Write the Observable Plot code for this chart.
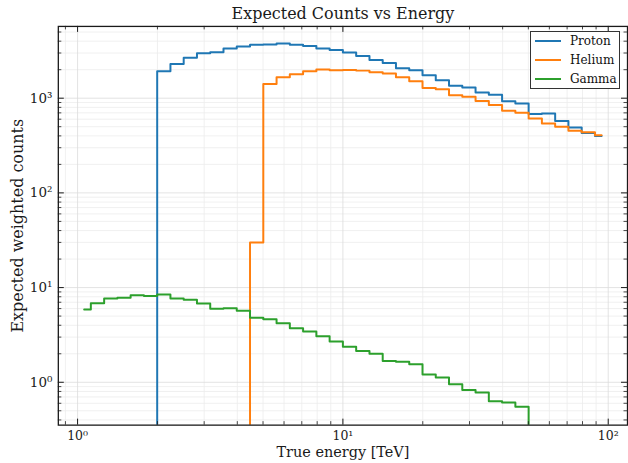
<!DOCTYPE html>
<html>
<head>
<meta charset="utf-8">
<script src="https://cdn.jsdelivr.net/npm/d3@7"></script>
<script src="https://cdn.jsdelivr.net/npm/@observablehq/plot@0.6"></script>
<style>
  html, body { margin: 0; padding: 0; background: #fff; overflow: hidden; }
  #wrap { position: relative; width: 628px; height: 463px; overflow: hidden; font-family: "DejaVu Serif", serif; }
  #legend { position: absolute; left: 530px; top: 31px; width: 90px; height: 58px; box-sizing: border-box;
            border: 1.2px solid #333; background: #fff; font-size: 12px; color: #111; }
  #legend .item { height: 19px; line-height: 19px; padding-left: 4px; white-space: nowrap; }
  #legend .sw { display: inline-block; width: 26px; height: 2px; vertical-align: middle; margin-right: 9px; position: relative; top: -1px; }
</style>
</head>
<body>
<div id="wrap"><div id="legend"></div></div>
<script>
// ---- data ----
const energyTeV = [1.059, 1.189, 1.334, 1.496, 1.679, 1.884, 2.114, 2.371, 2.661, 2.985,
                   3.350, 3.758, 4.217, 4.732, 5.309, 5.957, 6.683, 7.499, 8.414, 9.441,
                   10.59, 11.89, 13.34, 14.96, 16.79, 18.84, 21.14, 23.71, 26.61, 29.85,
                   33.50, 37.58, 42.17, 47.32, 53.09, 59.57, 66.83, 74.99, 84.14, 94.41];
const proton = [0, 0, 0, 0, 0, 0, 1920, 2300, 2680, 2980,
                3050, 3340, 3520, 3670, 3690, 3770, 3670, 3560, 3340, 3230,
                3030, 2790, 2530, 2350, 2070, 1970, 1750, 1550, 1350, 1300,
                1150, 1090, 930, 880, 680, 690, 575, 490, 430, 398];
const helium = [0, 0, 0, 0, 0, 0, 0, 0, 0, 0,
                0, 0, 0, 30, 1415, 1660, 1790, 1920, 2010, 1970,
                1985, 1955, 1880, 1820, 1665, 1510, 1285, 1245, 1075, 1035,
                935, 845, 735, 700, 610, 540, 500, 453, 436, 405];
const gamma = [5.87, 6.84, 7.66, 7.79, 8.30, 8.17, 8.44, 7.66, 7.42, 6.79,
               5.96, 6.05, 5.69, 4.80, 4.62, 4.19, 3.73, 3.43, 3.07, 2.70,
               2.37, 2.14, 2.00, 1.68, 1.65, 1.55, 1.21, 1.12, 0.953, 0.83,
               0.78, 0.63, 0.61, 0.55, 0, 0, 0, 0, 0, 0];
const seriesNames = ["Proton", "Helium", "Gamma"];
const seriesColors = ["#1f77b4", "#ff7f0e", "#2ca02c"];
const xMajorTicks = [1, 10, 100];
const yMajorTicks = [1, 10, 100, 1000];
const supDigits = {"0": "⁰", "1": "¹", "2": "²", "3": "³"};
const titleText = "Expected Counts vs Energy";
const xLabelText = "True energy [TeV]";
const yLabelText = "Expected weighted counts";

// ---- layout ----
const W = 630, H = 463;
const mL = 58, mR = 1, mT = 26, mB = 37;
const fw = W - mL - mR, fh = H - mT - mB;
const xDomain = [0.8462, 118.2];
const yDomain = [0.3527, 5728];

const floorVal = 1e-3; // non-positive values clipped below axis like matplotlib
const valuesBySeries = [proton, helium, gamma];
const rows = seriesNames.flatMap((name, s) =>
  valuesBySeries[s].map((v, i) => ({name, e: energyTeV[i], c: v > 0 ? v : floorVal})));

function minorTicks(domain) {
  const out = [];
  for (let p = -2; p <= 4; p++) for (let m = 2; m <= 9; m++) {
    const v = m * Math.pow(10, p);
    if (v > domain[0] && v < domain[1]) out.push(v);
  }
  return out;
}
const xMinor = minorTicks(xDomain);
const yMinor = minorTicks(yDomain);
const fmt = d => "10" + String(Math.round(Math.log10(d))).split("").map(c => supDigits[c]).join("");

const ink = "#1a1a1a";
const plot = Plot.plot({
  width: W, height: H,
  marginLeft: mL, marginRight: mR, marginTop: mT, marginBottom: mB,
  style: {fontFamily: "DejaVu Serif, serif", fontSize: "13px", background: "white", color: ink},
  x: {type: "log", domain: xDomain, axis: null},
  y: {type: "log", domain: yDomain, axis: null},
  color: {domain: seriesNames, range: seriesColors},
  marks: [
    // grid
    Plot.ruleX(xMinor, {x: d => d, stroke: "#ececec", strokeWidth: 0.8}),
    Plot.ruleY(yMinor, {y: d => d, stroke: "#ececec", strokeWidth: 0.8}),
    Plot.ruleX(xMajorTicks, {x: d => d, stroke: "#dcdcdc", strokeWidth: 0.8}),
    Plot.ruleY(yMajorTicks, {y: d => d, stroke: "#dcdcdc", strokeWidth: 0.8}),
    // series
    Plot.line(rows, {x: "e", y: "c", z: "name", stroke: "name", curve: "step", strokeWidth: 2, clip: true}),
    // frame
    Plot.frame({stroke: ink, strokeWidth: 1.3}),
    // inward ticks on all four sides
    Plot.tickX(xMajorTicks, {x: d => d, insetTop: fh - 6, stroke: ink, strokeWidth: 1}),
    Plot.tickX(xMajorTicks, {x: d => d, insetBottom: fh - 6, stroke: ink, strokeWidth: 1}),
    Plot.tickX(xMinor, {x: d => d, insetTop: fh - 3.5, stroke: ink, strokeWidth: 0.8}),
    Plot.tickX(xMinor, {x: d => d, insetBottom: fh - 3.5, stroke: ink, strokeWidth: 0.8}),
    Plot.tickY(yMajorTicks, {y: d => d, insetRight: fw - 6, stroke: ink, strokeWidth: 1}),
    Plot.tickY(yMajorTicks, {y: d => d, insetLeft: fw - 6, stroke: ink, strokeWidth: 1}),
    Plot.tickY(yMinor, {y: d => d, insetRight: fw - 3.5, stroke: ink, strokeWidth: 0.8}),
    Plot.tickY(yMinor, {y: d => d, insetLeft: fw - 3.5, stroke: ink, strokeWidth: 0.8}),
    // tick labels
    Plot.axisX(xMajorTicks, {tickSize: 0, tickPadding: 6, tickFormat: fmt, fontSize: 12.5, label: null, color: ink}),
    Plot.axisY(yMajorTicks, {tickSize: 0, tickPadding: 6, tickFormat: fmt, fontSize: 13.5, label: null, color: ink}),
    // title and axis labels
    Plot.text([titleText], {frameAnchor: "top", dy: -13, fontSize: 16, fill: ink, textAnchor: "middle", lineAnchor: "middle"}),
    Plot.text([xLabelText], {frameAnchor: "bottom", dy: 27, fontSize: 14.5, fill: ink, textAnchor: "middle", lineAnchor: "middle"}),
    Plot.text([yLabelText], {frameAnchor: "left", dx: -41, rotate: -90, fontSize: 16, fill: ink, textAnchor: "middle", lineAnchor: "middle"})
  ]
});
const wrap = document.getElementById("wrap");
wrap.insertBefore(plot, wrap.firstChild);

// legend
const legend = document.getElementById("legend");
seriesNames.forEach((n, i) => {
  const it = document.createElement("div");
  it.className = "item";
  const sw = document.createElement("span");
  sw.className = "sw";
  sw.style.background = seriesColors[i];
  it.appendChild(sw);
  it.appendChild(document.createTextNode(n));
  legend.appendChild(it);
});
</script>
</body>
</html>
